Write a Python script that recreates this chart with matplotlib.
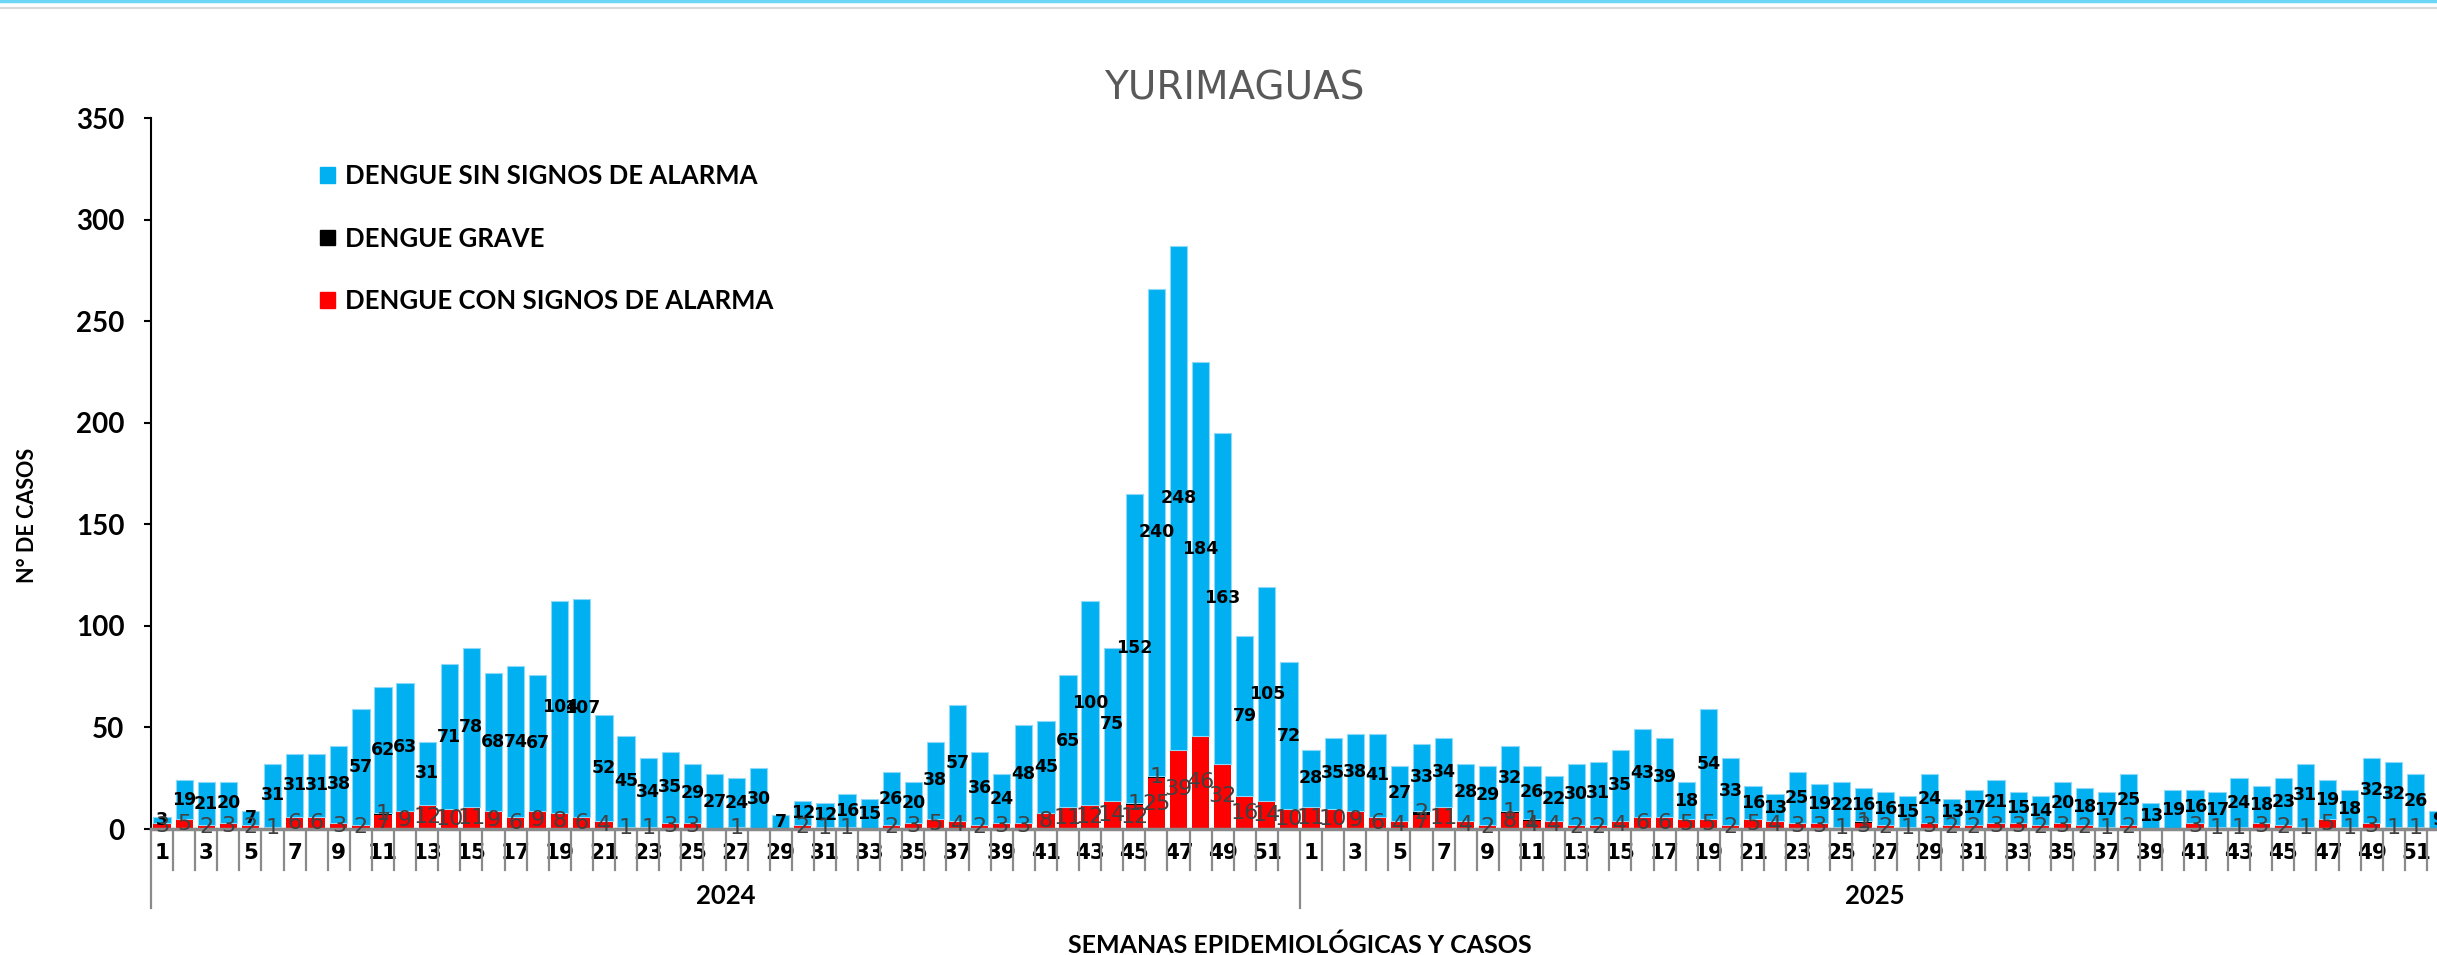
import matplotlib
matplotlib.use("Agg")
import matplotlib.pyplot as plt
from matplotlib.patches import Patch
from matplotlib.lines import Line2D
import matplotlib.transforms as mtransforms
import numpy as np

# casos por semana epidemiologica, 2024 y 2025
sin_2024 = [3, 19, 21, 20, 7, 31, 31, 31, 38, 57, 62, 63, 31, 71, 78, 68, 74, 67, 104, 107,
            52, 45, 34, 35, 29, 27, 24, 30, 7, 12, 12, 16, 15, 26, 20, 38, 57, 36, 24, 48,
            45, 65, 100, 75, 152, 240, 248, 184, 163, 79, 105, 72]
con_2024 = [3, 5, 2, 3, 2, 1, 6, 6, 3, 2, 7, 9, 12, 10, 11, 9, 6, 9, 8, 6,
            4, 1, 1, 3, 3, 0, 1, 0, 0, 2, 1, 1, 0, 2, 3, 5, 4, 2, 3, 3,
            8, 11, 12, 14, 12, 25, 39, 46, 32, 16, 14, 10]
grave_2024 = [0] * 52
grave_2024[10] = 1
grave_2024[44] = 1
grave_2024[45] = 1

sin_2025 = [28, 35, 38, 41, 27, 33, 34, 28, 29, 32, 26, 22, 30, 31, 35, 43, 39, 18, 54, 33,
            16, 13, 25, 19, 22, 16, 16, 15, 24, 13, 17, 21, 15, 14, 20, 18, 17, 25, 13, 19,
            16, 17, 24, 18, 23, 31, 19, 18, 32, 32, 26, 9]
con_2025 = [11, 10, 9, 6, 4, 7, 11, 4, 2, 8, 4, 4, 2, 2, 4, 6, 6, 5, 5, 2,
            5, 4, 3, 3, 1, 3, 2, 1, 3, 2, 2, 3, 3, 2, 3, 2, 1, 2, 0, 0,
            3, 1, 1, 3, 2, 1, 5, 1, 3, 1, 1, 0]
grave_2025 = [0] * 52
grave_2025[5] = 2
grave_2025[9] = 1
grave_2025[10] = 1
grave_2025[25] = 1

years = ["2024", "2025"]
semanas = list(range(1, 53)) * 2

sin = np.array(sin_2024 + sin_2025)
con = np.array(con_2024 + con_2025)
grave = np.array(grave_2024 + grave_2025)
x = np.arange(len(sin))

AZUL = "#00B0F0"
ROJO = "#FF0000"
NEGRO = "#000000"
GRIS = "#8A8A8A"
calibri = ["Lato", "DejaVu Sans"]

fig = plt.figure(figsize=(24.37, 9.55), dpi=100)
ax = fig.add_axes([151 / 2437, 126 / 955, 2298 / 2437, 711 / 955])

w = 0.78
ax.bar(x, con, width=w, color=ROJO, linewidth=0)
ax.bar(x, grave, width=w, bottom=con, color=NEGRO, linewidth=0)
ax.bar(x, sin, width=w, bottom=con + grave, color=AZUL, edgecolor="#8ED9F7", linewidth=0.8)

# etiquetas de valores
for i in x:
    if sin[i] > 0:
        ax.text(i, con[i] + grave[i] + sin[i] / 2, str(sin[i]), ha="center", va="center",
                fontsize=12.5, fontweight="bold", color="black")
    if con[i] > 0:
        ax.text(i, con[i] / 2, str(con[i]), ha="center", va="center",
                fontsize=16, color="#404040")
    if grave[i] > 0:
        ax.text(i, con[i] + grave[i] / 2, str(grave[i]), ha="center", va="center",
                fontsize=16, color="#404040")

ax.set_xlim(-0.5, len(x) - 0.5)
ax.set_ylim(0, 350)
ax.set_yticks(np.arange(0, 351, 50))
ax.tick_params(axis="y", length=5, width=1.5, pad=14, labelsize=20)
for t in ax.get_yticklabels():
    t.set_family(calibri)
    t.set_fontweight("bold")

ax.set_xticks(x)
ax.set_xticklabels([str(s) if s % 2 == 1 else "" for s in semanas])
ax.tick_params(axis="x", length=0, pad=10, labelsize=15.5)
for t in ax.get_xticklabels():
    t.set_fontweight("bold")

ax.spines["top"].set_visible(False)
ax.spines["right"].set_visible(False)
ax.spines["left"].set_linewidth(1.5)
ax.spines["bottom"].set_color(GRIS)
ax.spines["bottom"].set_linewidth(2.5)

# eje de categorias en dos niveles
trans = mtransforms.blended_transform_factory(ax.transData, ax.transAxes)
for b in np.arange(-0.5, len(x), 1.0):
    bajo = -79 / 711 if b in (-0.5, 51.5, 103.5) else -41 / 711
    ax.plot([b, b], [0, bajo], transform=trans, color=GRIS, lw=1.6, clip_on=False)
for k, yr in enumerate(years):
    ax.text(25.5 + 52 * k, -67 / 711, yr, transform=trans, ha="center", va="center",
            fontsize=18.5, fontweight="bold", family=calibri)

ax.legend(handles=[Patch(color=AZUL), Patch(color=NEGRO), Patch(color=ROJO)],
          labels=["DENGUE SIN SIGNOS DE ALARMA", "DENGUE GRAVE", "DENGUE CON SIGNOS DE ALARMA"],
          loc="upper left", bbox_to_anchor=(320 / 2437, 1 - 164 / 955),
          bbox_transform=fig.transFigure, frameon=False, borderpad=0, borderaxespad=0,
          handlelength=0.57, handleheight=0.57, handletextpad=0.4, labelspacing=1.5,
          prop={"family": calibri, "weight": "bold", "size": 18.5})

fig.text(1234 / 2437, 1 - 89 / 955, "YURIMAGUAS", ha="center", va="center",
         fontsize=28, color="#595959")
fig.text(27 / 2437, 1 - 515 / 955, "N° DE CASOS", ha="center", va="center", rotation=90,
         fontsize=15.5, fontweight="bold", family=calibri)
fig.text(1300 / 2437, 1 - 945 / 955, "SEMANAS EPIDEMIOLÓGICAS Y CASOS", ha="center",
         va="center", fontsize=18, fontweight="bold", family=calibri)

# lineas decorativas superiores
fig.add_artist(Line2D([0, 1], [1 - 1 / 955, 1 - 1 / 955], color="#6DD5F5", lw=2.5))
fig.add_artist(Line2D([0, 1], [1 - 8 / 955, 1 - 8 / 955], color="#D9D9D9", lw=1.5))

fig.savefig("out.png", dpi=100)
